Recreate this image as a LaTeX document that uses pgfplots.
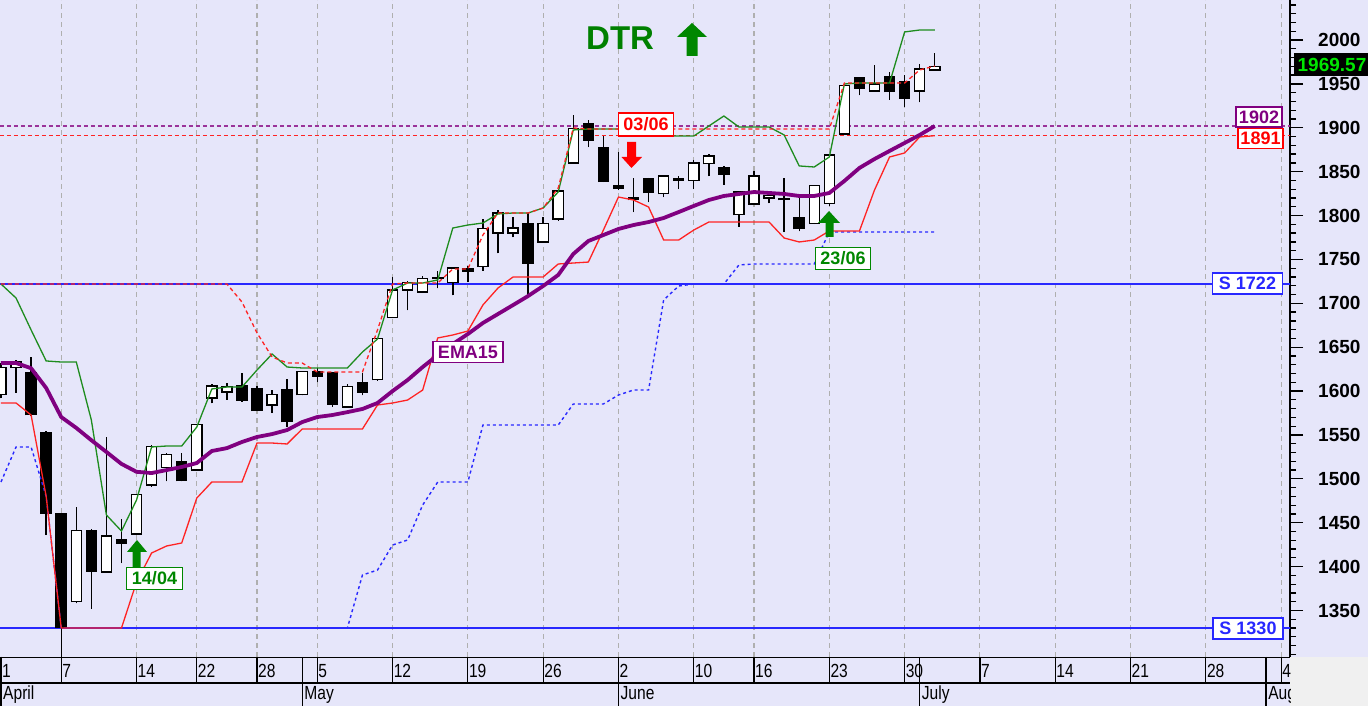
\documentclass[border=0pt]{standalone}
\usepackage{fontspec}
\setmainfont{Liberation Sans}
\usepackage{graphicx}
\usepackage{pgfplots}
\usepackage{pgfplotstable}
\pgfplotsset{compat=1.18}

\definecolor{bg}{RGB}{230,230,250}
\definecolor{cornergray}{RGB}{240,240,240}
\definecolor{gridgray}{RGB}{175,175,175}
\definecolor{ema}{RGB}{128,0,128}
\definecolor{gline}{RGB}{30,140,30}
\definecolor{rline}{RGB}{255,35,35}
\definecolor{bline}{RGB}{40,40,255}
\definecolor{dgreen}{RGB}{0,128,0}
\definecolor{agreen}{RGB}{0,135,0}
\definecolor{pricegreen}{RGB}{0,230,0}

\pgfplotstableread{
i O H L C
0 1596 1632 1592 1627
1 1627 1635 1598 1634
2 1621 1639 1572 1573
3 1552 1555 1436 1461
4 1460 1460 1290 1331
5 1360 1468 1358 1441
6 1441 1443 1352 1395
7 1394 1548 1394 1435
8 1431 1454 1404 1427
9 1437 1483 1437 1482
10 1493 1538 1491 1537
11 1513 1530 1497 1528
12 1519 1529 1497 1498
13 1510 1563 1510 1562
14 1592 1608 1586 1606
15 1599 1609 1590 1605
16 1606 1621 1588 1590
17 1603 1606 1578 1578
18 1584 1601 1575 1596
19 1601 1614 1559 1565
20 1596 1622 1595 1622
21 1622 1626 1610 1617
22 1621 1621 1582 1585
23 1582 1608 1582 1605
24 1609 1621 1595 1599
25 1613 1661 1612 1660
26 1684 1730 1684 1715
27 1715 1725 1692 1724
28 1713 1731 1712 1728
29 1728 1737 1717 1729
30 1724 1740 1709 1740
31 1739 1742 1724 1737
32 1742 1796 1737 1785
33 1780 1806 1757 1803
34 1780 1798 1775 1786
35 1791 1803 1706 1746
36 1770 1798 1770 1791
37 1796 1829 1794 1828
38 1860 1915 1860 1899
39 1905 1909 1878 1886
40 1877 1891 1839 1839
41 1834 1872 1829 1831
42 1820 1843 1804 1818
43 1842 1842 1815 1826
44 1825 1846 1821 1845
45 1842 1845 1830 1840
46 1840 1863 1830 1860
47 1859 1870 1845 1868
48 1854 1856 1835 1847
49 1801 1828 1787 1827
50 1813 1851 1813 1845
51 1820 1824 1814 1823
52 1819 1843 1781 1818
53 1797 1823 1782 1785
54 1791 1834 1791 1834
55 1814 1870 1811 1869
56 1893 1948 1892 1948
57 1957 1957 1937 1945
58 1942 1971 1941 1950
59 1958 1964 1932 1941
60 1953 1960 1924 1934
61 1942 1973 1929 1967
62 1966 1985 1966 1969.57
}\candles

\pgfplotstableread{
i ema grn rs rd bl
0 1632 1722 1586.4 1722 1496.4
1 1632 1706 1586.4 1722 1536.3
2 1626 1669.6 1572.7 1722 1536.3
3 1603.5 1634.3 1480 1722 1480
4 1570.4 1633.1 1330 1722 1330
5 1558 1633.1 1330 1722 1330
6 1544 1567 1330 1722 1330
7 1530.6 1458.8 1330 1722 1330
8 1517 1440.5 1330 1722 1330
9 1508 1475.9 1382.4 1722 1330
10 1506.6 1536.3 1415.5 1722 1330
11 1510 1537.4 1423.5 1722 1330
12 1513.5 1537.4 1426.9 1722 1330
13 1518 1559 1478.1 1722 1330
14 1531.7 1602.4 1496.4 1722 1330
15 1535 1604.6 1496.4 1722 1330
16 1542 1604.6 1496.4 1701.5 1330
17 1547.7 1624 1540.8 1666.2 1330
18 1551 1642.2 1540.8 1638.8 1330
19 1555.6 1627.4 1539.7 1632 1330
20 1564.7 1626.3 1556.8 1632 1330
21 1570.4 1626.3 1556.8 1621.7 1330
22 1572.7 1626.3 1556.8 1621.7 1330
23 1576 1626.3 1556.8 1621.7 1330
24 1579.6 1644.5 1556.8 1621.7 1390.4
25 1586.4 1659.3 1584.1 1669.6 1396.1
26 1600 1715.2 1586.4 1722 1424.6
27 1612.6 1723.1 1589.8 1723.1 1430.3
28 1627.4 1723.1 1601.2 1723.1 1470.2
29 1641 1726.6 1660.5 1723.1 1496.4
30 1653.6 1785.8 1663.9 1739.1 1496.4
31 1665 1789.2 1668.4 1739.1 1496.4
32 1677.6 1791.5 1698.1 1777.8 1561.3
33 1687.8 1801.8 1717.4 1802.9 1561.3
34 1698 1802.9 1730 1802.9 1561.3
35 1708.3 1802.9 1730 1802.9 1561.3
36 1719.7 1808.6 1730 1808.6 1561.3
37 1732.3 1826.8 1744.8 1831.4 1561.3
38 1756.2 1897.5 1745.9 1899.8 1585.3
39 1771 1898.6 1747 1898.6 1585.3
40 1777.8 1898.6 1783.5 1898.6 1585.3
41 1784.7 1898.6 1821.1 1898.6 1595.5
42 1789.2 1891.8 1817.7 1898.6 1601.2
43 1792.6 1890.6 1809.7 1898.6 1601.2
44 1797.2 1890.6 1772.1 1898.6 1703.8
45 1804 1890.6 1772.1 1898.6 1719.7
46 1810.9 1890.6 1783.5 1898.6 1722
47 1817.7 1902 1792.6 1898.6 1722
48 1822.3 1913.4 1792.6 1898.6 1722
49 1824.6 1900.9 1792.6 1898.6 1743.7
50 1826.8 1900.9 1792.6 1898.6 1744.8
51 1825.7 1900.9 1792.6 1898.6 1744.8
52 1824.6 1891.8 1774.4 1898.6 1744.8
53 1822.3 1856.5 1769.9 1898.6 1744.8
54 1822.3 1855.3 1772.1 1898.6 1744.8
55 1825.7 1866.7 1782.4 1898.6 1781.3
56 1839.4 1949.9 1782.4 1951 1781.3
57 1854.2 1951 1782.4 1951 1781.3
58 1864.4 1951 1829.1 1951 1781.3
59 1873.6 1951 1866.7 1951 1781.3
60 1882.7 2009.2 1871.3 1951 1781.3
61 1891.8 2011.4 1889.5 1965.9 1781.3
62 1902 2011.4 1891 1970.4 1781.3
}\lines

\newcommand{\lbl}[1]{\fontsize{#1}{#1}\selectfont\bfseries}

\pgfplotsset{
  candlepart/.style={forget plot, only marks, mark=*, mark size=0pt,
    mark options={draw=none, fill=none},
    error bars/.cd, y dir=plus, y explicit, error mark=none,
    error bar style={#1}},
}

\begin{document}
\begin{tikzpicture}
\useasboundingbox (0,0) rectangle (1368pt,706pt);
\fill[bg] (0,0) rectangle (1368pt,706pt);
\fill[cornergray] (1290pt,0) rectangle (1368pt,49pt);
\begin{axis}[
  at={(0pt,49pt)}, anchor=south west,
  width=1290pt, height=657pt, scale only axis,
  xmin=-0.066, xmax=85.59, ymin=1297, ymax=2045.6,
  axis background/.style={fill=bg},
  axis x line*=bottom, axis y line*=right,
  x axis line style={draw=none},
  y axis line style={black, line width=1.3pt},
  xtick={4,9,13,17,21,26,31,36,41,46,50,55,60,65,70,75,80,85},
  xticklabels={}, xtick style={draw=none},
  xmajorgrids,
  major x grid style={gridgray, dash pattern=on 5pt off 4pt, line width=1.1pt},
  ytick={1350,1400,...,2050},
  minor ytick={1300,1310,...,2040},
  ytick pos=right, yticklabel pos=right, tick align=outside,
  major tick length=13pt, minor tick length=6pt,
  every tick/.style={black, line width=1.3pt},
  yticklabel style={font=\lbl{19}, anchor=west, inner sep=0pt, xshift=15pt},
  /pgf/number format/1000 sep={}, /pgf/number format/assume math mode=true,
  clip=true,
]
% horizontal levels
\addplot[bline, line width=1.4pt, forget plot] coordinates {(-1,1722) (87,1722)};
\addplot[bline, line width=1.4pt, forget plot] coordinates {(-1,1330) (87,1330)};
\addplot[ema!80!white, line width=1.3pt, dash pattern=on 4pt off 3pt, forget plot] coordinates {(-1,1902) (87,1902)};
\addplot[rline, line width=1.3pt, dash pattern=on 4pt off 3pt, forget plot] coordinates {(-1,1891) (87,1891)};
% wicks
\addplot[candlepart={black, line width=1.4pt}]
  table[x=i, y=L, y error plus expr={\thisrow{H}-\thisrow{L}}] {\candles};
% bodies outer
\addplot[candlepart={black, line width=11.5pt}]
  table[x=i, y expr={min(\thisrow{O},\thisrow{C})-0.8}, y error plus expr={abs(\thisrow{C}-\thisrow{O})+1.6}] {\candles};
% bodies inner (white for rising candles)
\addplot[candlepart={white, line width=8.7pt}]
  table[x=i, y expr={\thisrow{O}+0.8}, y error plus expr={max(\thisrow{C}-\thisrow{O}-1.6,0)}] {\candles};
% indicator lines
\addplot[bline, line width=1.4pt, dash pattern=on 3pt off 3pt, forget plot] table[x=i, y=bl] {\lines};
\addplot[rline, line width=1.3pt, forget plot] table[x=i, y=rs] {\lines};
\addplot[gline, line width=1.3pt, forget plot] table[x=i, y=grn] {\lines};
\addplot[ema, line width=3.8pt, forget plot] table[x=i, y=ema] {\lines};
\addplot[rline, line width=1.3pt, dash pattern=on 4pt off 3pt, forget plot] table[x=i, y=rd] {\lines};
\end{axis}

\begin{scope}[x=1pt, y=-1pt, shift={(0pt,706pt)}]
  % date rows
  \begin{scope}
  \clip (0,650) rectangle (1290,706);
  \draw[black, line width=1.3pt] (0,657.5) -- (1290,657.5);
  \draw[black, line width=1.2pt] (0,683) -- (1290,683);
  \foreach \i/\t in {0/1,4/7,9/14,13/22,17/28,21/5,26/12,31/19,36/26,41/2,46/10,50/16,55/23,60/30,65/7,70/14,75/21,80/28,85/4} {
    \pgfmathsetmacro{\xx}{1+15.06*\i}
    \draw[black, line width=1.2pt] (\xx,657) -- (\xx,683);
    \node[anchor=base west, inner sep=0pt, font=\fontsize{19}{19}\selectfont] at (\xx+1,678) {\scalebox{0.82}[1]{\t}};
  }
  \foreach \i/\t in {0/April,20/May,41/June,61/July,84/August} {
    \pgfmathsetmacro{\xx}{1+15.06*\i}
    \draw[black, line width=1.2pt] (\xx,657) -- (\xx,706);
    \node[anchor=base west, inner sep=0pt, font=\fontsize{19}{19}\selectfont] at (\xx+2,700) {\scalebox{0.82}[1]{\t}};
  }
  \end{scope}
  % title
  \node[anchor=base west, inner sep=0pt, text=dgreen, font=\lbl{33}] at (586,50) {DTR};
  \fill[agreen] (692,23) -- (707,37) -- (697.5,37) -- (697.5,56) -- (686.5,56) -- (686.5,37) -- (677,37) -- cycle;
  % signal arrows
  \fill[agreen] (137,540) -- (147,552) -- (140.5,552) -- (140.5,567) -- (132.5,567) -- (132.5,552) -- (127,552) -- cycle;
  \fill[agreen] (829,211) -- (840,223) -- (833.5,223) -- (833.5,237) -- (825.5,237) -- (825.5,223) -- (818,223) -- cycle;
  \fill[red] (631.5,168) -- (642,157) -- (636,157) -- (636,142) -- (627,142) -- (627,157) -- (621.5,157) -- cycle;
  % boxed labels
  \node[draw=agreen, line width=1.5pt, fill=white, text=agreen, font=\lbl{18}, inner sep=0pt, minimum width=56pt, minimum height=22pt] at (154.5,578.5) {14/04};
  \node[draw=agreen, line width=1.5pt, fill=white, text=agreen, font=\lbl{18}, inner sep=0pt, minimum width=55pt, minimum height=22pt] at (843,258.5) {23/06};
  \node[draw=red, line width=1.5pt, fill=white, text=red, font=\lbl{18}, inner sep=0pt, minimum width=55pt, minimum height=23pt] at (646,124.5) {03/06};
  \node[draw=ema, line width=1.5pt, fill=white, text=ema, font=\lbl{18}, inner sep=0pt, minimum width=70pt, minimum height=21pt] at (468,352) {EMA15};
  \node[draw=ema, line width=1.5pt, fill=white, text=ema, font=\lbl{18}, inner sep=0pt, minimum width=46pt, minimum height=20pt] at (1259,117) {1902};
  \node[draw=red, line width=1.5pt, fill=white, text=red, font=\lbl{18}, inner sep=0pt, minimum width=45pt, minimum height=20pt] at (1260.5,138.5) {1891};
  \node[draw=bline, line width=1.5pt, fill=white, text=bline, font=\lbl{18}, inner sep=0pt, minimum width=70pt, minimum height=21pt] at (1247.5,283.5) {S 1722};
  \node[draw=bline, line width=1.5pt, fill=white, text=bline, font=\lbl{18}, inner sep=0pt, minimum width=70pt, minimum height=21pt] at (1248,628.5) {S 1330};
  \node[fill=black, text=pricegreen, font=\lbl{19}, inner sep=0pt, minimum width=76pt, minimum height=23pt] at (1332,64.5) {1969.57};
\end{scope}
\end{tikzpicture}
\end{document}
